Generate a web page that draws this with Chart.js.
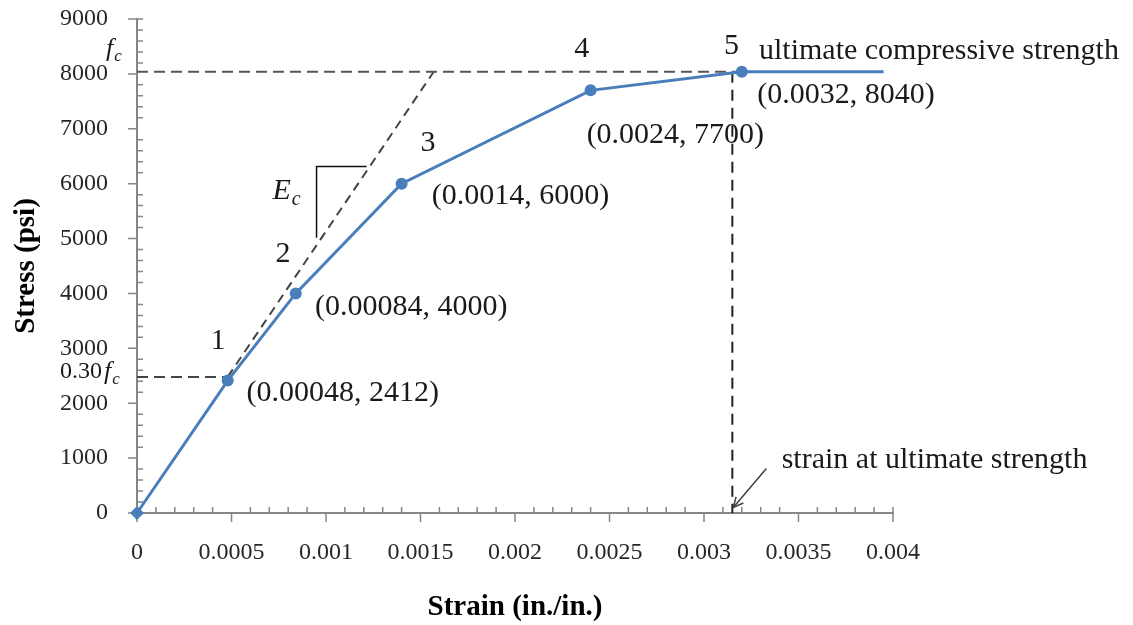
<!DOCTYPE html>
<html>
<head>
<meta charset="utf-8">
<title>Concrete stress-strain curve</title>
<script src="https://cdn.jsdelivr.net/npm/chart.js@4.4.1/dist/chart.umd.min.js"></script>
<style>
  html, body { margin: 0; padding: 0; background: #fff; }
  #wrap { position: relative; width: 1133px; height: 625px; }
</style>
</head>
<body>
<div id="wrap"><canvas id="curve"></canvas></div>
<script>
// curve points: strain (in./in.) and stress (psi)
const strain = [0, 0.00048, 0.00084, 0.0014, 0.0024, 0.0032, 0.00395];
const stress = [0, 2412, 4000, 6000, 7700, 8040, 8040];
const pointNames = ['1', '2', '3', '4', '5'];

const xTickLabels = ['0', '0.0005', '0.001', '0.0015', '0.002', '0.0025', '0.003', '0.0035', '0.004'];
const yTickLabels = ['0', '1000', '2000', '3000', '4000', '5000', '6000', '7000', '8000', '9000'];

// guide lines
const fcLevel = 8040;              // f'c
const fcLineEnd = 0.0032;
const lowLevel = 2480;             // 0.30 f'c
const lowLineEnd = 0.00048;
const ecLineX = [0.00048, 0.00157];
const ecLineY = [2480, 8040];
const ultStrain = 0.00315;
const slopeX = [0.00095, 0.00095, 0.001215];
const slopeY = [5013, 6314, 6314];
const leaderX = [0.00333, 0.003155];
const leaderY = [810, 100];

// label anchors (data units)
const numberX = [0.000429, 0.000772, 0.00154, 0.002353, 0.003146];
const numberY = [3133, 4721, 6745, 8443, 8504];
const coordX = [0.00058, 0.000942, 0.001559, 0.002379, 0.003282];
const coordY = [2179, 3748, 5766, 6892, 7622];

const SERIF = '"Liberation Serif", "Times New Roman", serif';
const AXIS = '#868686';
const BLUE = '#4A7EBB';
const DASH = '#404040';

const toXY = (xs, ys) => xs.map((v, i) => ({ x: v, y: ys[i] }));

function subscripted(ctx, x, y, main, sub, size, italicMain) {
  ctx.font = (italicMain ? 'italic ' : '') + size + 'px ' + SERIF;
  ctx.textAlign = 'left';
  ctx.textBaseline = 'middle';
  ctx.fillText(main, x, y);
  const w = ctx.measureText(main).width;
  ctx.font = 'italic ' + Math.round(size * 0.65) + 'px ' + SERIF;
  ctx.fillText(sub, x + w + 1, y + size * 0.28);
  return w + 1 + ctx.measureText(sub).width;
}

const annotations = {
  id: 'annotations',
  beforeDatasetsDraw(chart) {
    const { ctx, chartArea: a, scales: { x, y } } = chart;
    ctx.save();
    ctx.strokeStyle = AXIS;
    ctx.lineWidth = 1.5;
    ctx.beginPath();
    // x ticks: majors point down, minors point up
    for (let i = 0; i <= 40; i++) {
      const px = x.getPixelForValue(i * 0.0001);
      const major = i % 5 === 0;
      if (major) { ctx.moveTo(px, a.bottom); ctx.lineTo(px, a.bottom + 9); }
      if (!major || i === 40) { ctx.moveTo(px, a.bottom); ctx.lineTo(px, a.bottom - 6); }
    }
    // y ticks: majors point left, minors point right
    for (let i = 0; i <= 45; i++) {
      const py = y.getPixelForValue(i * 200);
      const major = i % 5 === 0;
      if (major) { ctx.moveTo(a.left, py); ctx.lineTo(a.left - 9, py); }
      if (!major || i === 45) { ctx.moveTo(a.left, py); ctx.lineTo(a.left + 6, py); }
    }
    ctx.stroke();
    ctx.restore();
  },
  afterDatasetsDraw(chart) {
    const { ctx, chartArea: a, scales: { x, y } } = chart;
    ctx.save();

    // arrow head on the leader line
    const x0 = x.getPixelForValue(leaderX[0]), y0 = y.getPixelForValue(leaderY[0]);
    const x1 = x.getPixelForValue(leaderX[1]), y1 = y.getPixelForValue(leaderY[1]);
    const ang = Math.atan2(y0 - y1, x0 - x1);
    ctx.strokeStyle = DASH;
    ctx.lineWidth = 1.5;
    ctx.beginPath();
    ctx.moveTo(x1 + 11 * Math.cos(ang - 0.45), y1 + 11 * Math.sin(ang - 0.45));
    ctx.lineTo(x1, y1);
    ctx.lineTo(x1 + 11 * Math.cos(ang + 0.45), y1 + 11 * Math.sin(ang + 0.45));
    ctx.stroke();

    ctx.fillStyle = '#1a1a1a';
    ctx.textBaseline = 'middle';

    // point numbers
    ctx.font = '30px ' + SERIF;
    ctx.textAlign = 'center';
    pointNames.forEach((t, i) => ctx.fillText(t, x.getPixelForValue(numberX[i]), y.getPixelForValue(numberY[i])));

    // coordinates of the numbered points
    ctx.textAlign = 'left';
    pointNames.forEach((t, i) => {
      const text = '(' + strain[i + 1] + ', ' + stress[i + 1] + ')';
      ctx.fillText(text, x.getPixelForValue(coordX[i]), y.getPixelForValue(coordY[i]));
    });

    ctx.fillText('ultimate compressive strength', x.getPixelForValue(0.003291), y.getPixelForValue(8413));
    ctx.fillText('strain at ultimate strength', x.getPixelForValue(0.003411), y.getPixelForValue(962));

    // modulus label
    subscripted(ctx, x.getPixelForValue(0.000717), y.getPixelForValue(5858), 'E', 'c', 30, true);

    // f'c marks beside the stress axis
    subscripted(ctx, a.left - 31, y.getPixelForValue(8443), 'f', 'c', 26, true);
    ctx.font = '24px ' + SERIF;
    ctx.textAlign = 'left';
    const lowY = y.getPixelForValue(2570);
    ctx.fillText('0.30', a.left - 77, lowY);
    subscripted(ctx, a.left - 33, lowY, 'f', 'c', 26, true);

    ctx.restore();
  }
};

const dashed = (pts, color, dash) => ({
  data: pts,
  borderColor: color,
  borderWidth: 2,
  borderDash: dash,
  pointRadius: 0,
  fill: false,
  clip: false
});

new Chart(document.getElementById('curve'), {
  type: 'line',
  data: {
    datasets: [
      {
        data: toXY(strain, stress),
        borderColor: BLUE,
        backgroundColor: BLUE,
        borderWidth: 3,
        pointStyle: ['rectRot', 'circle', 'circle', 'circle', 'circle', 'circle', 'circle'],
        pointRadius: [7, 6, 6, 6, 6, 6, 0],
        pointBorderWidth: 0,
        fill: false,
        clip: false
      },
      dashed([{ x: 0, y: fcLevel }, { x: fcLineEnd, y: fcLevel }], '#555', [11, 6]),
      dashed([{ x: 0, y: lowLevel }, { x: lowLineEnd, y: lowLevel }], '#444', [11, 6]),
      dashed(toXY(ecLineX, ecLineY), '#444', [9, 6]),
      dashed([{ x: ultStrain, y: fcLevel }, { x: ultStrain, y: 0 }], '#222', [11, 7]),
      {
        data: toXY(slopeX, slopeY),
        borderColor: '#111',
        borderWidth: 1.5,
        pointRadius: 0,
        fill: false
      },
      {
        data: toXY(leaderX, leaderY),
        borderColor: DASH,
        borderWidth: 1.5,
        pointRadius: 0,
        fill: false
      }
    ]
  },
  options: {
    responsive: true,
    maintainAspectRatio: false,
    animation: false,
    layout: { padding: { top: 19, right: 240, bottom: 0, left: 0 } },
    plugins: { legend: { display: false }, tooltip: { enabled: false } },
    elements: { line: { tension: 0 } },
    scales: {
      x: {
        type: 'linear',
        min: 0,
        max: 0.004,
        grid: { display: false },
        border: { display: true, color: AXIS, width: 2 },
        ticks: {
          stepSize: 0.0005,
          autoSkip: false,
          maxRotation: 0,
          padding: 17,
          color: '#262626',
          font: { family: SERIF, size: 24 },
          callback: (v, i) => xTickLabels[i]
        },
        title: {
          display: true,
          text: 'Strain (in./in.)',
          color: '#000',
          font: { family: SERIF, size: 29, weight: 'bold' },
          padding: { top: 0, bottom: 0 }
        },
        afterFit: (s) => { s.height = 112; }
      },
      y: {
        min: 0,
        max: 9000,
        grid: { display: false },
        border: { display: true, color: AXIS, width: 2 },
        ticks: {
          stepSize: 1000,
          padding: 21,
          color: '#262626',
          font: { family: SERIF, size: 24 },
          callback: (v, i) => yTickLabels[i]
        },
        title: {
          display: true,
          text: 'Stress (psi)',
          color: '#000',
          font: { family: SERIF, size: 29, weight: 'bold' },
          padding: { top: 9, bottom: 0 }
        },
        // fixed axis width; the top label may overhang the plot edge
        afterFit: (s) => { s.width = 137; s.paddingTop = 0; s.paddingBottom = 0; }
      }
    }
  },
  plugins: [annotations]
});
</script>
</body>
</html>
